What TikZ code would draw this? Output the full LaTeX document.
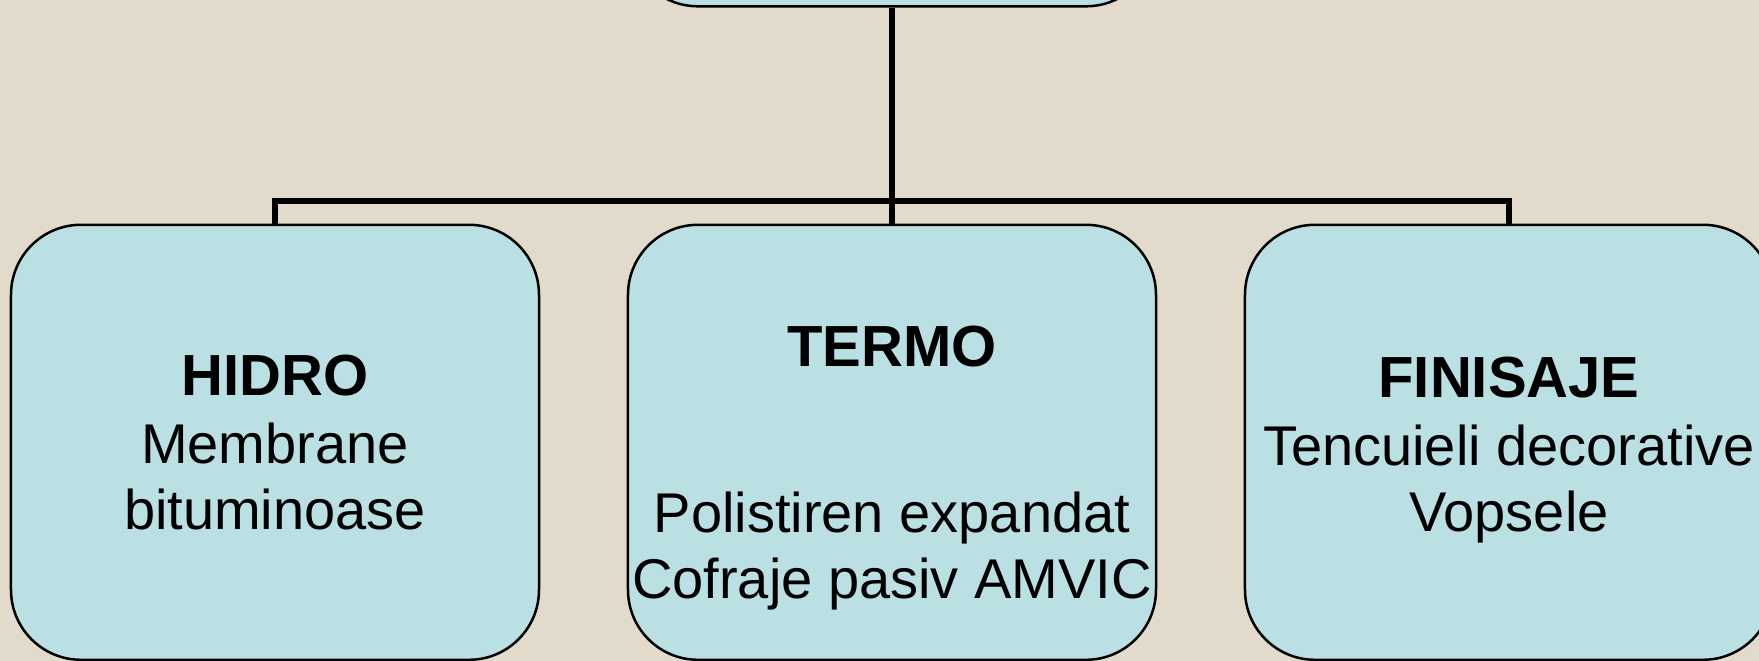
\documentclass[tikz,border=0pt]{standalone}
\usepackage{fontspec}
\setmainfont{Liberation Sans}
\usetikzlibrary{matrix}

\definecolor{paper}{RGB}{226,218,202}
\definecolor{boxfill}{RGB}{186,224,227}
\newcommand{\boxtitle}[1]{{\fontsize{58}{66}\selectfont\bfseries #1}}
\newcommand{\lift}[1]{\rule{0pt}{#1}}

\tikzset{
	item/.style={draw, line width=2.5pt, fill=boxfill, rounded corners=70pt,
		minimum width=528pt, minimum height=435pt, inner sep=0pt,
		align=center, font=\fontsize{56}{66}\selectfont},
	link/.style={line width=6pt}
}

\begin{document}
\begin{tikzpicture}[x=1pt,y=1pt]
	\useasboundingbox (0,0) rectangle (1759,661);
	\clip (0,0) rectangle (1759,661);
	\fill[paper] (0,0) rectangle (1759,661);
	\matrix (m) [row sep=216pt, column sep=86.5pt, inner sep=0pt, anchor=south] at (892,-0.25)
	{
		& \node[item] (top) {}; & \\
		\node[item] (hidro) {\boxtitle{HIDRO}\\[2pt] Membrane\\ bituminoase}; &
		\node[item] (termo) {\lift{93pt}\boxtitle{TERMO}\\[100pt] Polistiren expandat\\ Cofraje pasiv AMVIC}; &
		\node[item] (finisaje) {\lift{57pt}\boxtitle{FINISAJE}\\[2pt] Tencuieli decorative\\ Vopsele}; \\
	};
	\draw[link] (top.south) -- (termo.north);
	\draw[link] (hidro.north) -- ++(0,22.5) -| (finisaje.north);
\end{tikzpicture}
\end{document}
